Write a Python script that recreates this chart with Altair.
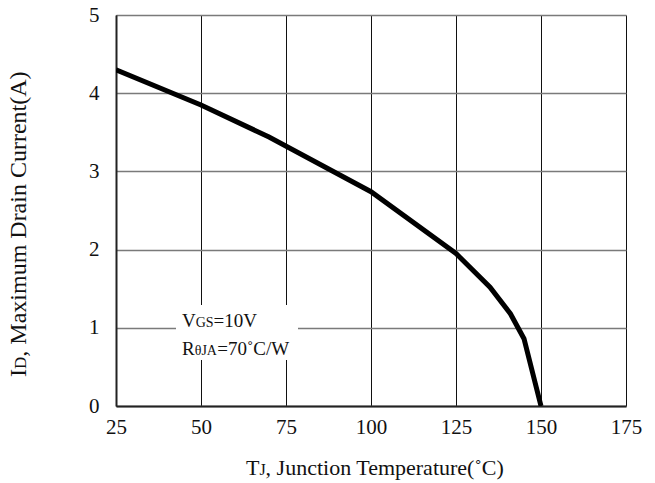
import altair as alt
import pandas as pd

# Derating curve: junction temperature (°C) vs. maximum drain current (A)
temp_c = [25, 50, 70, 100, 125, 135, 141, 145, 150]
drain_a = [4.30, 3.85, 3.44, 2.74, 1.95, 1.52, 1.18, 0.86, 0.0]

x_ticks = [25, 50, 75, 100, 125, 150, 175]
y_ticks = [0, 1, 2, 3, 4, 5]

FONT = "Liberation Serif"
W, H = 510, 391

df = pd.DataFrame({"tj": temp_c, "id": drain_a})
one = alt.Data(values=[{"k": 0}])

x_enc = alt.X(
    "tj:Q",
    scale=alt.Scale(domain=[25, 175], nice=False, zero=False),
    axis=alt.Axis(values=x_ticks, title=None, grid=True, gridColor="#111",
                  gridWidth=1, ticks=False, domain=True, domainColor="#222",
                  domainWidth=2, labelFont=FONT, labelFontSize=21,
                  labelColor="#111", labelPadding=10, labelFlush=False),
)
y_enc = alt.Y(
    "id:Q",
    scale=alt.Scale(domain=[0, 5], nice=False),
    axis=alt.Axis(values=y_ticks, title=None, grid=True, gridColor="#7a7a7a",
                  gridWidth=1.5, ticks=False, domain=True, domainColor="#222",
                  domainWidth=2, labelFont=FONT, labelFontSize=21,
                  labelColor="#111", labelPadding=17, labelFlush=False),
)

curve = alt.Chart(df).mark_line(color="black", strokeWidth=5, clip=True).encode(
    x=x_enc, y=y_enc
)

# white panel behind the test-condition note
note_bg = alt.Chart(one).mark_rect(color="white").encode(
    x=alt.value(60), x2=alt.value(182), y=alt.value(290), y2=alt.value(345)
)


def piece(text, x, y, size, angle=0):
    return alt.Chart(one).mark_text(
        text=text, font=FONT, fontSize=size, color="#111", align="left",
        baseline="alphabetic", angle=angle
    ).encode(x=alt.value(x), y=alt.value(y))


note = [
    piece("V", 66, 312, 19),
    piece("GS", 79.7, 312, 14),
    piece("=10V", 97.6, 312, 19),
    piece("R", 66, 340, 19),
    piece("θJA", 78.7, 340, 14),
    piece("=70˚C/W", 101.3, 340, 19),
]

x_title = [
    piece("T", 130, 460, 22),
    piece("J", 143.4, 460, 16),
    piece(", Junction Temperature(˚C)", 149.6, 460, 22),
]

y_title = [
    piece("I", -90, 362, 24, 270),
    piece("D", -90, 354, 17, 270),
    piece(", Maximum Drain Current(A)", -90, 341.7, 24, 270),
]

chart = alt.layer(curve, note_bg, *note, *x_title, *y_title).properties(
    width=W,
    height=H,
    autosize=alt.AutoSizeParams(type="none"),
    padding={"left": 116, "top": 15, "right": 29, "bottom": 77},
).configure_view(stroke="#666", strokeWidth=2).configure(background="white")

chart.save("out.html", embed_options={"renderer": "svg", "actions": False})
